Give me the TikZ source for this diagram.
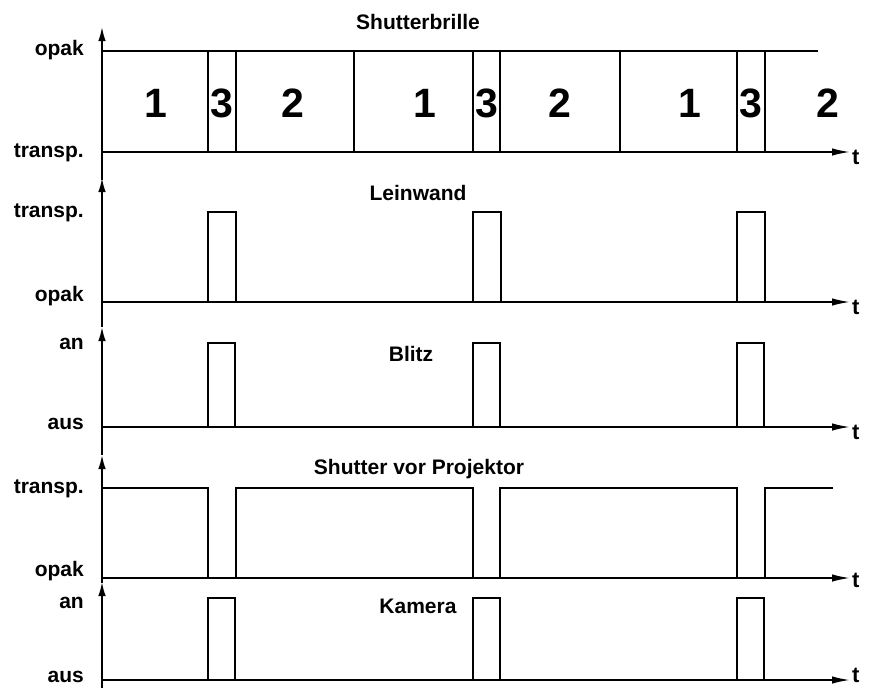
\documentclass[tikz,border=0pt]{standalone}
\usepackage{fontspec}
\setmainfont{Liberation Sans}
\usetikzlibrary{arrows.meta}
\begin{document}
\begin{tikzpicture}[x=1pt,y=-1pt,
  axis/.style={line width=1.7pt,-{Latex[length=18pt,width=7.5pt]}},
  vaxis/.style={line width=1.7pt,-{Latex[length=14pt,width=7.5pt]}},
  sig/.style={line width=1.3pt},
  sig1/.style={line width=1.8pt},
  lbl/.style={font=\fontsize{21}{21}\selectfont\bfseries,anchor=east,inner sep=0pt},
  ttl/.style={font=\fontsize{21}{21}\selectfont\bfseries,inner sep=0pt},
  num/.style={font=\fontsize{41}{41}\selectfont\bfseries,inner sep=0pt},
  tlbl/.style={font=\fontsize{22}{22}\selectfont\bfseries,anchor=west,inner sep=0pt}]
\useasboundingbox (0,0) rectangle (869,688);

% ---------- Panel 1: Shutterbrille ----------
\coordinate (a1b) at (102,180);
\coordinate (a1t) at (102,27);
\coordinate (o1) at (102,152);
\coordinate (e1) at (850,152);
\draw[vaxis] (a1b) -- (a1t);
\draw[axis] (o1) -- (e1);
\node[tlbl] (t1) at (852,157) {t};
\coordinate (p1s) at (102,51);
\coordinate (p1e) at (818,51);
\draw[sig1] (p1s) -- (p1e);
\foreach \x [count=\i] in {208,236,354,473,500,620,737,765}{
  \coordinate (v\i t) at (\x,51);
  \coordinate (v\i b) at (\x,152);
  \draw[sig1] (v\i t) -- (v\i b);
}
\node[ttl] (title1) at (418,22) {Shutterbrille};
\node[lbl] (l1a) at (84,50) {opak};
\node[lbl] (l1b) at (84,153) {transp.};
\node[num] (n1) at (156,103) {1};
\node[num] (n2) at (222,103) {3};
\node[num] (n3) at (293,103) {2};
\node[num] (n4) at (425,103) {1};
\node[num] (n5) at (487,103) {3};
\node[num] (n6) at (560,103) {2};
\node[num] (n7) at (690,103) {1};
\node[num] (n8) at (751,103) {3};
\node[num] (n9) at (828,103) {2};

% ---------- Panel 2: Leinwand ----------
\coordinate (a2b) at (102,327);
\coordinate (a2t) at (102,178);
\coordinate (o2) at (102,302);
\coordinate (e2) at (850,302);
\draw[vaxis] (a2b) -- (a2t);
\draw[axis] (o2) -- (e2);
\node[tlbl] (t2) at (852,307) {t};
\foreach \x in {208,473,737}{
  \draw[sig] (\x,302) -- (\x,212) -- (\x+28,212) -- (\x+28,302);
}
\node[ttl] (title2) at (418,193) {Leinwand};
\node[lbl] (l2a) at (84,213) {transp.};
\node[lbl] (l2b) at (84,296) {opak};

% ---------- Panel 3: Blitz ----------
\coordinate (a3b) at (102,455);
\coordinate (a3t) at (102,327);
\coordinate (o3) at (102,427);
\coordinate (e3) at (850,427);
\draw[vaxis] (a3b) -- (a3t);
\draw[axis] (o3) -- (e3);
\node[tlbl] (t3) at (852,432) {t};
\foreach \x in {208,473,737}{
  \draw[sig] (\x,427) -- (\x,343) -- (\x+27,343) -- (\x+27,427);
}
\node[ttl] (title3) at (411,354) {Blitz};
\node[lbl] (l3a) at (84,344) {an};
\node[lbl] (l3b) at (84,424) {aus};

% ---------- Panel 4: Shutter vor Projektor ----------
\coordinate (a4b) at (102,583);
\coordinate (a4t) at (102,455);
\coordinate (o4) at (102,578);
\coordinate (e4) at (850,578);
\draw[vaxis] (a4b) -- (a4t);
\draw[axis] (o4) -- (e4);
\node[tlbl] (t4) at (852,580) {t};
\draw[sig] (102,488) -- (208,488) -- (208,578) -- (236,578) -- (236,488)
  -- (473,488) -- (473,578) -- (500,578) -- (500,488)
  -- (737,488) -- (737,578) -- (765,578) -- (765,488) -- (833,488);
\node[ttl] (title4) at (419,469) {Shutter vor Projektor};
\node[lbl] (l4a) at (84,489) {transp.};
\node[lbl] (l4b) at (84,571) {opak};

% ---------- Panel 5: Kamera ----------
\coordinate (a5b) at (102,688);
\coordinate (a5t) at (102,582);
\coordinate (o5) at (102,680);
\coordinate (e5) at (850,680);
\draw[vaxis] (a5b) -- (a5t);
\draw[axis] (o5) -- (e5);
\node[tlbl] (t5) at (852,675) {t};
\foreach \x in {208,473,737}{
  \draw[sig] (\x,680) -- (\x,598) -- (\x+27,598) -- (\x+27,680);
}
\node[ttl] (title5) at (418,606) {Kamera};
\node[lbl] (l5a) at (84,603) {an};
\node[lbl] (l5b) at (84,677) {aus};
\end{tikzpicture}
\end{document}
